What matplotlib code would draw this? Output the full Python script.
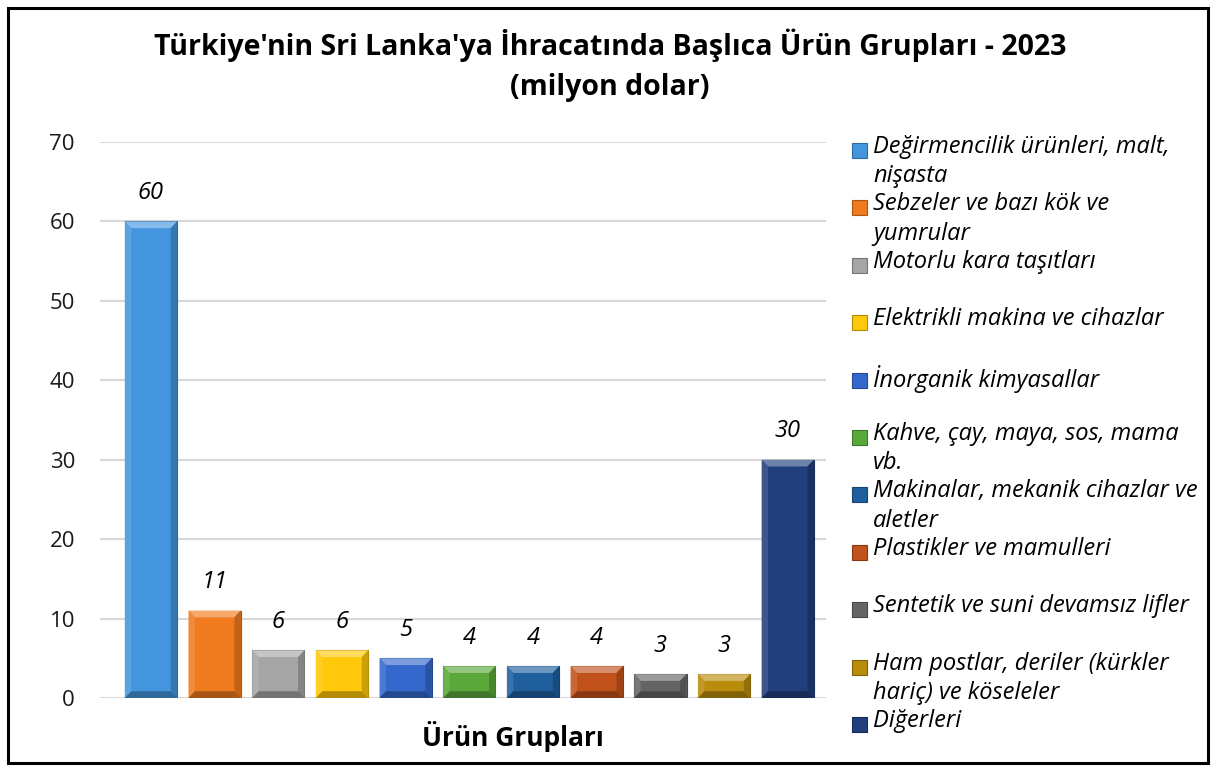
import matplotlib
matplotlib.use("Agg")
import matplotlib.pyplot as plt
from matplotlib.patches import Polygon, Rectangle
from matplotlib.colors import to_rgb
import numpy as np

# -----------------------------
# Data
# -----------------------------
categories = [
    "Değirmencilik ürünleri, malt,\nnişasta",
    "Sebzeler ve bazı kök ve\nyumrular",
    "Motorlu kara taşıtları",
    "Elektrikli makina ve cihazlar",
    "İnorganik kimyasallar",
    "Kahve, çay, maya, sos, mama\nvb.",
    "Makinalar, mekanik cihazlar ve\naletler",
    "Plastikler ve mamulleri",
    "Sentetik ve suni devamsız lifler",
    "Ham postlar, deriler (kürkler\nhariç) ve köseleler",
    "Diğerleri",
]
values = [60, 11, 6, 6, 5, 4, 4, 4, 3, 3, 30]
colors = ["#4396de", "#f07a1e", "#a5a5a5", "#ffc80a", "#3468cc", "#5aa83a",
          "#1f5f9e", "#c2521c", "#646464", "#b98c0c", "#213f7c"]
yticks = [0, 10, 20, 30, 40, 50, 60, 70]

FONT = "Open Sans"
plt.rcParams["font.family"] = [FONT, "DejaVu Sans"]


def shade(c, f):
    r = np.array(to_rgb(c))
    if f > 0:
        return tuple(r + (1 - r) * f)
    return tuple(r * (1 + f))


# -----------------------------
# Plot
# -----------------------------
fig = plt.figure(figsize=(12.17, 7.71), dpi=100)
ax = fig.add_axes([100 / 1217, 1 - 698 / 771, 726 / 1217, 556 / 771])

x = np.arange(len(values))
width = 0.82
bars = ax.bar(x, values, width=width, color=colors, zorder=3,
              edgecolor=[shade(c, -0.3) for c in colors], linewidth=0.8)

# bevel look on each bar
bx = 0.1
by = 0.85
for b, c in zip(bars, colors):
    x0, x1 = b.get_x(), b.get_x() + b.get_width()
    h = b.get_height()
    ax.add_patch(Polygon([(x0, h), (x1, h), (x1 - bx, h - by), (x0 + bx, h - by)],
                         closed=True, color=shade(c, 0.35), zorder=4, lw=0))
    ax.add_patch(Polygon([(x0, h), (x0 + bx, h - by), (x0 + bx, by), (x0, 0)],
                         closed=True, color=shade(c, 0.12), zorder=4, lw=0))
    ax.add_patch(Polygon([(x1, h), (x1 - bx, h - by), (x1 - bx, by), (x1, 0)],
                         closed=True, color=shade(c, -0.2), zorder=4, lw=0))
    ax.add_patch(Polygon([(x0, 0), (x1, 0), (x1 - bx, by), (x0 + bx, by)],
                         closed=True, color=shade(c, -0.3), zorder=4, lw=0))

for b, v in zip(bars, values):
    ax.annotate(str(v), (b.get_x() + b.get_width() / 2, v), xytext=(0, 12),
                textcoords="offset points", ha="center", va="bottom",
                fontsize=17, style="italic", color="black")

ax.set_xlim(-0.8, 10.6)
ax.set_ylim(0, 70)
ax.set_yticks(yticks)
ax.set_xticks([])
ax.tick_params(axis="y", length=0, pad=18, labelsize=16, labelcolor="#1a1a1a")
ax.grid(axis="y", color="#d9d9d9", linewidth=1.5, zorder=0)
for s in ax.spines.values():
    s.set_visible(False)

# title and axis label
fig.text(610 / 1217, 1 - 45 / 771, "Türkiye'nin Sri Lanka'ya İhracatında Başlıca Ürün Grupları - 2023",
         ha="center", va="center", fontsize=20.5, fontweight="bold")
fig.text(610 / 1217, 1 - 87 / 771, "(milyon dolar)",
         ha="center", va="center", fontsize=20.5, fontweight="bold")
fig.text(513 / 1217, 1 - 737 / 771, "Ürün Grupları",
         ha="center", va="center", fontsize=19, fontweight="bold")

# legend
y_first = 150
dy = 57.4
for i, (lab, c) in enumerate(zip(categories, colors)):
    yy = y_first + i * dy
    fig.patches.append(Rectangle((852 / 1217, 1 - (yy + 8) / 771), 15 / 1217, 15 / 771,
                                 transform=fig.transFigure, facecolor=c,
                                 edgecolor=shade(c, -0.3), lw=0.8))
    fig.text(873 / 1217, 1 - (yy - 15) / 771, lab, ha="left", va="top",
             fontsize=17, style="italic", linespacing=1.3)

# outer border
fig.patches.append(Rectangle((8 / 1217, 8 / 771), 1200 / 1217, 755 / 771,
                             transform=fig.transFigure, fill=False,
                             edgecolor="black", lw=2.2))

fig.savefig("out.png", dpi=100, facecolor="white")
